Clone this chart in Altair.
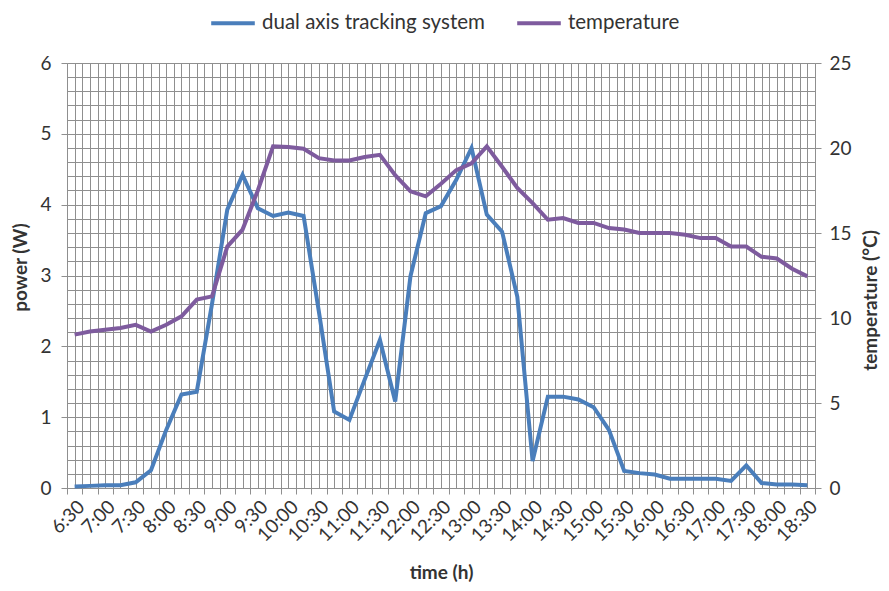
import json
import altair as alt
import pandas as pd

times = ["6:30", "6:45", "7:00", "7:15", "7:30", "7:45", "8:00", "8:15", "8:30", "8:45",
         "9:00", "9:15", "9:30", "9:45", "10:00", "10:15", "10:30", "10:45", "11:00", "11:15",
         "11:30", "11:45", "12:00", "12:15", "12:30", "12:45", "13:00", "13:15", "13:30", "13:45",
         "14:00", "14:15", "14:30", "14:45", "15:00", "15:15", "15:30", "15:45", "16:00", "16:15",
         "16:30", "16:45", "17:00", "17:15", "17:30", "17:45", "18:00", "18:15", "18:30"]

power = [0.02, 0.03, 0.04, 0.04, 0.08, 0.25, 0.82, 1.32, 1.36, 2.6,
         3.93, 4.42, 3.95, 3.84, 3.89, 3.84, 2.49, 1.08, 0.96, 1.53,
         2.09, 1.22, 2.99, 3.88, 3.98, 4.35, 4.8, 3.86, 3.62, 2.7,
         0.38, 1.29, 1.29, 1.25, 1.14, 0.82, 0.24, 0.21, 0.19, 0.13,
         0.13, 0.13, 0.13, 0.10, 0.32, 0.07, 0.05, 0.05, 0.04]

temperature = [9.02, 9.2, 9.31, 9.41, 9.6, 9.2, 9.6, 10.1, 11.08, 11.27,
               14.2, 15.2, 17.5, 20.1, 20.06, 19.96, 19.4, 19.27, 19.27, 19.47,
               19.6, 18.4, 17.45, 17.16, 17.9, 18.7, 19.1, 20.1, 18.9, 17.65,
               16.76, 15.78, 15.88, 15.59, 15.59, 15.29, 15.2, 15.0, 15.0, 15.0,
               14.9, 14.7, 14.7, 14.2, 14.2, 13.6, 13.5, 12.9, 12.45]

series_names = ["dual axis tracking system", "temperature"]
series_colors = ["#4A7EBB", "#7E5B9E"]

power_ticks = [0, 1, 2, 3, 4, 5, 6]
temp_ticks = [0, 5, 10, 15, 20, 25]

rows = []
for i, t in enumerate(times):
    rows.append({"pos": i + 0.5, "time": t, "series": series_names[0], "value": power[i]})
for i, t in enumerate(times):
    rows.append({"pos": i + 0.5, "time": t, "series": series_names[1], "value": temperature[i]})
df = pd.DataFrame(rows)

FONT = "Lato"
TXT = "#333333"
GRID = "#8f8f8f"
AX = "#8f8f8f"
LBL = 19
TTL = 19

n = len(times)
x_values = [k * 0.5 for k in range(2 * n + 1)]
label_expr = ("(datum.value - 0.5) % 2 == 0 ? " + json.dumps(times) +
              "[datum.value - 0.5] : ''")

x_enc = alt.X(
    "pos:Q",
    scale=alt.Scale(domain=[0, n], nice=False, zero=False),
    axis=alt.Axis(
        values=x_values, grid=True, gridColor=GRID, gridWidth=1, gridOpacity=1,
        labelExpr=label_expr, labelAngle=-45, labelOverlap=False, labelFlush=False,
        labelBound=False, labelFont=FONT, labelFontSize=LBL, labelColor=TXT, labelPadding=3,
        tickSize=6, tickColor=AX,
        tickOpacity={"condition": {"test": "datum.value % 1 == 0", "value": 1}, "value": 0},
        domainColor=AX, title="time (h)", titleFont=FONT, titleFontSize=TTL,
        titleFontWeight="bold", titleColor=TXT, titleX=374, titleY=84,
        titleBaseline="middle", titleAlign="center",
    ),
)

minor_y = [round(k * 0.2, 1) for k in range(31)]
is_int = "abs(datum.value - round(datum.value)) < 0.001"

color_enc = alt.Color(
    "series:N",
    scale=alt.Scale(domain=series_names, range=series_colors),
    legend=alt.Legend(
        orient="none", legendX=142, legendY=-64, direction="horizontal", title=None,
        symbolType="stroke", symbolSize=1900, symbolStrokeWidth=4, labelFont=FONT,
        labelFontSize=20.5, labelColor=TXT, labelOffset=5, columnPadding=24,
        labelLimit=0,
    ),
)

power_layer = alt.Chart(df).transform_filter(
    alt.datum.series == series_names[0]
).mark_line(strokeWidth=4).encode(
    x=x_enc,
    y=alt.Y(
        "value:Q",
        scale=alt.Scale(domain=[0, 6], nice=False),
        axis=alt.Axis(
            orient="left", values=minor_y, grid=True, gridColor=GRID, gridWidth=1,
            labelExpr=is_int + " ? format(datum.value, 'd') : ''", labelOverlap=False,
            labelFont=FONT, labelFontSize=LBL, labelColor=TXT, labelPadding=10,
            tickSize=6, tickColor=AX,
            tickOpacity={"condition": {"test": is_int, "value": 1}, "value": 0},
            domainColor=AX, title="power (W)", titleFont=FONT, titleFontSize=TTL,
            titleFontWeight="bold", titleColor=TXT, titleAngle=270, titleX=-47,
            titleY=204, titleBaseline="middle", titleAlign="center",
        ),
    ),
    color=color_enc,
)

temp_layer = alt.Chart(df).transform_filter(
    alt.datum.series == series_names[1]
).mark_line(strokeWidth=4).encode(
    x=x_enc,
    y=alt.Y(
        "value:Q",
        scale=alt.Scale(domain=[0, 25], nice=False),
        axis=alt.Axis(
            orient="right", values=temp_ticks, grid=False,
            labelFont=FONT, labelFontSize=LBL, labelColor=TXT, labelPadding=8,
            tickSize=6, tickColor=AX, domainColor=AX,
            title="temperature (°C)", titleFont=FONT, titleFontSize=TTL,
            titleFontWeight="bold", titleColor=TXT, titleAngle=270, titleX=55,
            titleY=237, titleBaseline="middle", titleAlign="center",
        ),
    ),
    color=color_enc,
)

chart = alt.layer(power_layer, temp_layer).resolve_scale(
    y="independent"
).properties(
    width=748, height=425,
    autosize=alt.AutoSizeParams(type="none"),
    padding={"left": 59, "top": 55, "right": 66, "bottom": 95},
    background="white",
).configure_view(stroke=None)

chart.save("out.html", embed_options={"renderer": "svg", "actions": False})
